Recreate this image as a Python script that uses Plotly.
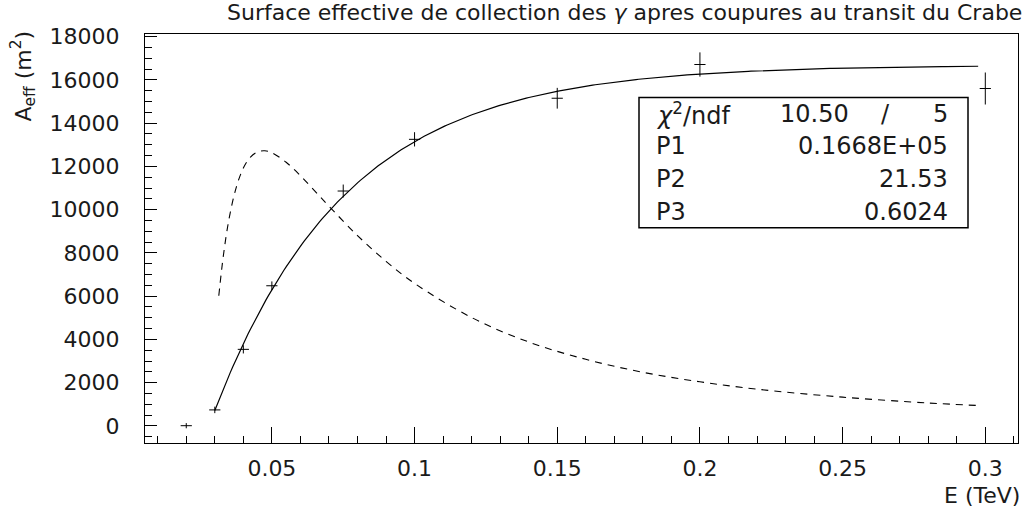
import numpy as np
import plotly.graph_objects as go

# Measured effective area after transit cuts (Crab)
energy = [0.02, 0.03, 0.04, 0.05, 0.075, 0.1, 0.15, 0.2, 0.3]
area = [10, 740, 3540, 6480, 10860, 13250, 15150, 16710, 15600]
area_err = [120, 150, 190, 200, 300, 330, 480, 560, 740]

# Fit result: A(E) = P1 * (1 - exp(P3 - P2*E))
chi2, ndf = 10.50, 5
P1, P2, P3 = 0.1668e5, 21.53, 0.6024
fit_range = (0.03, 0.2975)

# Differential rate curve (dashed)
rate_e = [0.0314, 0.033, 0.035, 0.0375, 0.04, 0.0425, 0.045, 0.0475, 0.05, 0.055,
          0.06, 0.065, 0.07, 0.08, 0.09, 0.1, 0.12, 0.14, 0.16, 0.18, 0.2, 0.22,
          0.25, 0.28, 0.298]
rate_v = [6020, 7870, 9580, 11020, 11920, 12430, 12670, 12720, 12630, 12190,
          11570, 10870, 10160, 8800, 7610, 6590, 5010, 3880, 3080, 2480, 2040, 1700,
          1330, 1060, 940]

# Axis ticks
x_ticks = [0.05, 0.1, 0.15, 0.2, 0.25, 0.3]
x_ticktext = ["0.05", "0.1", "0.15", "0.2", "0.25", "0.3"]
y_ticks = [0, 2000, 4000, 6000, 8000, 10000, 12000, 14000, 16000, 18000]

fit_e = np.linspace(fit_range[0], fit_range[1], 300)
fit_v = P1 * (1 - np.exp(P3 - P2 * fit_e))

W, H = 1027, 517
L, R, T, B = 145, 1018, 34, 443.5
FONT = "DejaVu Sans"
INK = "#1a1a1a"


def px(x):
    return (x - L) / (R - L)


def py(y):
    return (B - y) / (B - T)


fig = go.Figure()
fig.add_trace(go.Scatter(x=fit_e, y=fit_v, mode="lines",
                         line=dict(color="black", width=1.2), hoverinfo="skip"))
fig.add_trace(go.Scatter(x=rate_e, y=rate_v, mode="lines", line_shape="spline",
                         line=dict(color="black", width=1.1, dash="7px,6px"),
                         hoverinfo="skip"))
fig.add_trace(go.Scatter(x=energy, y=area, mode="markers",
                         marker=dict(symbol="line-ew", size=8,
                                     line=dict(color="black", width=1)),
                         error_y=dict(type="data", array=area_err, width=0,
                                      thickness=1, color="black")))

axis_common = dict(showgrid=False, zeroline=False, showline=True, mirror=True,
                   linecolor="black", linewidth=1, ticks="inside",
                   tickcolor="black", tickwidth=1,
                   tickfont=dict(family=FONT, size=22, color=INK))
fig.update_xaxes(range=[0.00554, 0.31146], tickmode="array", tickvals=x_ticks,
                 ticktext=x_ticktext, ticklen=16, ticklabelstandoff=6,
                 minor=dict(ticks="inside", tick0=0, dtick=0.01, ticklen=7,
                            tickcolor="black"),
                 **axis_common)
fig.update_yaxes(range=[-790, 18120], tickmode="array", tickvals=y_ticks,
                 ticktext=[str(v) for v in y_ticks], ticklen=12,
                 ticklabelstandoff=20,
                 minor=dict(ticks="inside", tick0=0, dtick=500, ticklen=7,
                            tickcolor="black"),
                 **axis_common)

annotations = [
    dict(text="Surface effective de collection des <i>γ</i> apres coupures au transit du Crabe",
         x=px(1024), y=py(12), xanchor="right", yanchor="middle",
         font=dict(size=22)),
    dict(text="A<sub>eff</sub> (m<sup>2</sup>)", textangle=-90,
         x=px(23), y=py(29), xanchor="center", yanchor="top", font=dict(size=22)),
    dict(text="E (TeV)", x=px(1022), y=py(496), xanchor="right", yanchor="middle",
         font=dict(size=22)),
]

# Fit statistics box
box = (639, 97.5, 968, 228)
rows = [114, 146, 179, 212]
labels = ["<i>χ</i><sup>2</sup>/ndf", "P1", "P2", "P3"]
values = [None, "0.1668E+05", f"{P2:.2f}", f"{P3:.4f}"]
for yrow, lab, val in zip(rows, labels, values):
    annotations.append(dict(text=lab, x=px(654), y=py(yrow), xanchor="left",
                            yanchor="middle", font=dict(size=24)))
    if val is not None:
        annotations.append(dict(text=val, x=px(950), y=py(yrow), xanchor="right",
                                yanchor="middle", font=dict(size=24)))
annotations += [
    dict(text=f"{chi2:.2f}", x=px(814), y=py(rows[0]), xanchor="center",
         yanchor="middle", font=dict(size=24)),
    dict(text="/", x=px(885), y=py(rows[0]), xanchor="center", yanchor="middle",
         font=dict(size=24)),
    dict(text=f"{ndf}", x=px(950), y=py(rows[0]), xanchor="right", yanchor="middle",
         font=dict(size=24)),
]
for a in annotations:
    a.update(xref="paper", yref="paper", showarrow=False)
    a["font"].update(family=FONT, color=INK)

fig.update_layout(
    width=W, height=H, autosize=False,
    margin=dict(l=L, r=W - R, t=T, b=H - B, pad=0),
    paper_bgcolor="white", plot_bgcolor="white", showlegend=False,
    annotations=annotations,
    shapes=[dict(type="rect", xref="paper", yref="paper",
                 x0=px(box[0]), x1=px(box[2]), y0=py(box[3]), y1=py(box[1]),
                 line=dict(color="black", width=1.5), fillcolor="white",
                 layer="above")],
)
fig.write_html("out.html")
